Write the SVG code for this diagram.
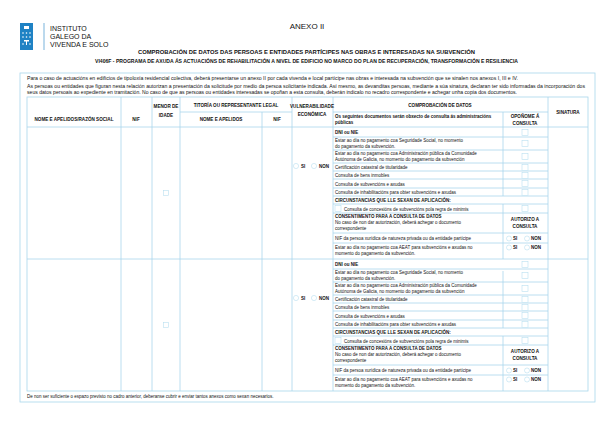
<svg xmlns="http://www.w3.org/2000/svg" width="615" height="439" viewBox="0 0 615 439">
<style>
text{font-family:"Liberation Sans",Arial,sans-serif;fill:#111}
.t{font-size:4.5px}
.b{font-size:4.5px;font-weight:bold}
.h{font-size:4.6px;font-weight:bold;text-anchor:middle}
.c{text-anchor:middle}
.ln{stroke:#a9d6ec;stroke-width:0.8;fill:none}
.cb{fill:#fff;stroke:#b9dff0;stroke-width:0.6}
</style>
<rect width="615" height="439" fill="#fff"/>
<g id="logo">
<rect x="20" y="23" width="13" height="27" fill="#1f82c4"/>
<g fill="#fff"><rect x="24" y="26" width="5" height="3"/><circle cx="23" cy="33" r="0.8"/><circle cx="26.5" cy="33" r="0.8"/><circle cx="30" cy="33" r="0.8"/><circle cx="23" cy="37" r="0.8"/><circle cx="26.5" cy="37" r="0.8"/><circle cx="30" cy="37" r="0.8"/><rect x="24" y="40" width="5" height="1.5"/><rect x="26" y="41" width="1" height="4"/><circle cx="23" cy="44" r="0.8"/><circle cx="30" cy="44" r="0.8"/></g>
<line x1="44" y1="23" x2="44" y2="50" stroke="#1f82c4" stroke-width="0.6"/>
<g fill="#1f82c4" style="font-size:7px;font-family:'Liberation Sans',Arial,sans-serif"><text x="50" y="31" fill="#1f82c4">INSTITUTO</text><text x="50" y="39" fill="#1f82c4">GALEGO DA</text><text x="50" y="47" fill="#1f82c4">VIVENDA E SOLO</text></g>
</g>
<g id="titles">
<text x="307" y="29" class="c" style="font-size:8px">ANEXO II</text>
<text x="138" y="54" class="b" style="font-size:6px" textLength="337" lengthAdjust="spacingAndGlyphs">COMPROBACIÓN DE DATOS DAS PERSOAS E ENTIDADES PARTÍCIPES NAS OBRAS E INTERESADAS NA SUBVENCIÓN</text>
<text x="95" y="63" class="b" style="font-size:5.2px" textLength="423" lengthAdjust="spacingAndGlyphs">VI406F - PROGRAMA DE AXUDA ÁS ACTUACIÓNS DE REHABILITACIÓN A NIVEL DE EDIFICIO NO MARCO DO PLAN DE RECUPERACIÓN, TRANSFORMACIÓN E RESILIENCIA</text>
</g>
<rect id="frame" x="20" y="73" width="575" height="329" class="ln"/>
<g id="intro">
<text x="27" y="80" class="t" textLength="491" lengthAdjust="spacingAndGlyphs">Para o caso de actuacións en edificios de tipoloxía residencial colectiva, deberá presentarse un anexo II por cada vivenda e local partícipe nas obras e interesada na subvención que se sinalen nos anexos I, III e IV.</text>
<text x="27" y="88" class="t" textLength="558" lengthAdjust="spacingAndGlyphs">As persoas ou entidades que figuran nesta relación autorizan a presentación da solicitude por medio da persoa solicitante indicada. Así mesmo, as devanditas persoas, mediante a súa sinatura, declaran ter sido informadas da incorporación dos</text>
<text x="27" y="93.5" class="t" textLength="490" lengthAdjust="spacingAndGlyphs">seus datos persoais ao expediente en tramitación. No caso de que as persoas ou entidades interesadas se opoñan a esta consulta, deberán indicalo no recadro correspondente e achegar unha copia dos documentos.</text>
</g>
<g id="connectors" class="ln">
<rect x="27" y="97" width="561" height="294"/>
<path d="M121 97V391M152 97V391M180 97V391M262 112V391M292 97V391M333 97V391M548 97V391M503 112V196M503 204V259M503 271V328M503 336V391"/>
<path d="M180 112H292M333 112H548M27 127H588M27 259H588"/>
<path d="M333 137H548M333 150H548M333 163H548M333 171H548M333 179H548M333 188H548M333 196H548M333 204H548M333 213H548M333 233H548M333 243H548"/>
<path d="M333 269H548M333 282H548M333 295H548M333 303H548M333 311H548M333 320H548M333 328H548M333 336H548M333 345H548M333 365H548M333 375H548"/>
</g>
<g id="header">
<text x="74" y="121" class="h">NOME E APELIDOS/RAZÓN SOCIAL</text>
<text x="136" y="121" class="h">NIF</text>
<text x="166" y="108" class="h">MENOR DE</text><text x="166" y="117" class="h">IDADE</text>
<text x="236" y="107" class="h">TITORÍA OU REPRESENTANTE LEGAL</text>
<text x="221" y="121" class="h">NOME E APELIDOS</text>
<text x="277" y="121" class="h">NIF</text>
<text x="312" y="108" class="h">VULNERABILIDADE</text><text x="312" y="116" class="h">ECONÓMICA</text>
<text x="440" y="107" class="h">COMPROBACIÓN DE DATOS</text>
<text x="335" y="118" class="b">Os seguintes documentos serán obxecto de consulta ás administracións</text>
<text x="335" y="124" class="b">públicas</text>
<text x="525" y="118" class="h">OPOÑOME Á</text><text x="525" y="125" class="h">CONSULTA</text>
<text x="568" y="114" class="h">SINATURA</text>
</g>
<g id="block1">
<rect x="163.5" y="190.5" width="5" height="5" class="cb"/>
<circle cx="296" cy="166" r="2.6" class="cb"/><text x="301" y="167.6" class="b">SI</text>
<circle cx="314" cy="166" r="2.6" class="cb"/><text x="319" y="167.6" class="b">NON</text>
<text x="335" y="134" class="b">DNI ou NIE</text>
<text x="335" y="142" class="t">Estar ao día no pagamento coa Seguridade Social, no momento</text>
<text x="335" y="147.5" class="t">do pagamento da subvención.</text>
<text x="335" y="155" class="t">Estar ao día no pagamento coa Administración pública da Comunidade</text>
<text x="335" y="160.5" class="t">Autónoma de Galicia, no momento do pagamento da subvención</text>
<text x="335" y="169" class="t">Certificación catastral de titularidade</text>
<text x="335" y="177" class="t">Consulta de bens inmobles</text>
<text x="335" y="185.5" class="t">Consulta de subvencións e axudas</text>
<text x="335" y="194" class="t">Consulta de inhabilitacións para obter subvencións e axudas</text>
<text x="335" y="202" class="b">CIRCUNSTANCIAS QUE LLE SEXAN DE APLICACIÓN:</text>
<rect x="335" y="205.5" width="6" height="6" class="cb"/>
<text x="344" y="210.5" class="t">Consulta de concesións de subvencións pola regra de minimis</text>
<text x="335" y="218" class="b">CONSENTIMENTO PARA A CONSULTA DE DATOS</text>
<text x="335" y="224" class="t">No caso de non dar autorización, deberá achegar o documento</text>
<text x="335" y="229.5" class="t">correspondente</text>
<text x="525" y="221" class="h">AUTORIZO A</text><text x="525" y="228" class="h">CONSULTA</text>
<text x="335" y="240" class="t">NIF da persoa xurídica de natureza privada ou da entidade partícipe</text>
<text x="335" y="249" class="t">Estar ao día no pagamento coa AEAT para subvencións e axudas no</text>
<text x="335" y="254.5" class="t">momento do pagamento da subvención.</text>
<g class="cb"><rect x="522" y="129.5" width="6" height="6"/><rect x="522" y="140.5" width="6" height="6"/><rect x="522" y="153.5" width="6" height="6"/><rect x="522" y="164.5" width="6" height="6"/><rect x="522" y="172.5" width="6" height="6"/><rect x="522" y="180.5" width="6" height="6"/><rect x="522" y="189.5" width="6" height="6"/><rect x="522" y="205.5" width="6" height="6"/>
<circle cx="509" cy="238.5" r="2.5"/><circle cx="527" cy="238.5" r="2.5"/><circle cx="509" cy="247.5" r="2.5"/><circle cx="527" cy="247.5" r="2.5"/></g>
<text x="513" y="240" class="b">SI</text><text x="531" y="240" class="b">NON</text>
<text x="513" y="249" class="b">SI</text><text x="531" y="249" class="b">NON</text>
</g>
<g id="block2">
<rect x="163.5" y="322.5" width="5" height="5" class="cb"/>
<circle cx="296" cy="298" r="2.6" class="cb"/><text x="301" y="299.6" class="b">SI</text>
<circle cx="314" cy="298" r="2.6" class="cb"/><text x="319" y="299.6" class="b">NON</text>
<text x="335" y="266" class="b">DNI ou NIE</text>
<text x="335" y="274" class="t">Estar ao día no pagamento coa Seguridade Social, no momento</text>
<text x="335" y="279.5" class="t">do pagamento da subvención.</text>
<text x="335" y="287" class="t">Estar ao día no pagamento coa Administración pública da Comunidade</text>
<text x="335" y="292.5" class="t">Autónoma de Galicia, no momento do pagamento da subvención</text>
<text x="335" y="301" class="t">Certificación catastral de titularidade</text>
<text x="335" y="309" class="t">Consulta de bens inmobles</text>
<text x="335" y="317.5" class="t">Consulta de subvencións e axudas</text>
<text x="335" y="326" class="t">Consulta de inhabilitacións para obter subvencións e axudas</text>
<text x="335" y="334" class="b">CIRCUNSTANCIAS QUE LLE SEXAN DE APLICACIÓN:</text>
<rect x="335" y="337.5" width="6" height="6" class="cb"/>
<text x="344" y="342.5" class="t">Consulta de concesións de subvencións pola regra de minimis</text>
<text x="335" y="350" class="b">CONSENTIMENTO PARA A CONSULTA DE DATOS</text>
<text x="335" y="356" class="t">No caso de non dar autorización, deberá achegar o documento</text>
<text x="335" y="361.5" class="t">correspondente</text>
<text x="525" y="353" class="h">AUTORIZO A</text><text x="525" y="360" class="h">CONSULTA</text>
<text x="335" y="372" class="t">NIF da persoa xurídica de natureza privada ou da entidade partícipe</text>
<text x="335" y="381" class="t">Estar ao día no pagamento coa AEAT para subvencións e axudas no</text>
<text x="335" y="386.5" class="t">momento do pagamento da subvención.</text>
<g class="cb"><rect x="522" y="261.5" width="6" height="6"/><rect x="522" y="272.5" width="6" height="6"/><rect x="522" y="285.5" width="6" height="6"/><rect x="522" y="296.5" width="6" height="6"/><rect x="522" y="304.5" width="6" height="6"/><rect x="522" y="312.5" width="6" height="6"/><rect x="522" y="321.5" width="6" height="6"/><rect x="522" y="337.5" width="6" height="6"/>
<circle cx="509" cy="370.5" r="2.5"/><circle cx="527" cy="370.5" r="2.5"/><circle cx="509" cy="379.5" r="2.5"/><circle cx="527" cy="379.5" r="2.5"/></g>
<text x="513" y="372" class="b">SI</text><text x="531" y="372" class="b">NON</text>
<text x="513" y="381" class="b">SI</text><text x="531" y="381" class="b">NON</text>
</g>
<text id="footnote" x="27" y="398" class="t">De non ser suficiente o espazo previsto no cadro anterior, deberanse cubrir e enviar tantos anexos como sexan necesarios.</text>
</svg>
